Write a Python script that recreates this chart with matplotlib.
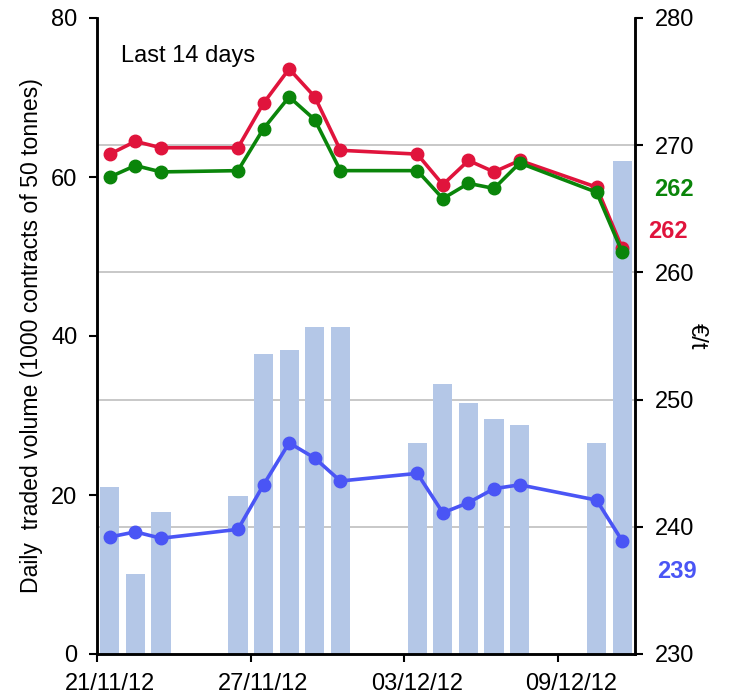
import numpy as np
import matplotlib
matplotlib.use('Agg')
import matplotlib.pyplot as plt
import matplotlib.dates as mdates
import matplotlib.transforms as mtransforms

plt.rcParams['font.family'] = ['Liberation Sans', 'DejaVu Sans']

# trading days shown (weekends left out)
dates = ['2012-11-21', '2012-11-22', '2012-11-23', '2012-11-26', '2012-11-27',
         '2012-11-28', '2012-11-29', '2012-11-30', '2012-12-03', '2012-12-04',
         '2012-12-05', '2012-12-06', '2012-12-07', '2012-12-10', '2012-12-11']
volume = [21.0, 10.1, 17.9, 19.9, 37.7, 38.2, 41.1, 41.1, 26.5, 34.0,
          31.6, 29.6, 28.8, 26.5, 62.0]
price_red = [269.3, 270.3, 269.8, 269.8, 273.3, 276.0, 273.8, 269.6, 269.3, 266.9,
             268.8, 267.9, 268.8, 266.7, 261.9]
price_green = [267.5, 268.4, 267.9, 268.0, 271.3, 273.8, 272.0, 268.0, 268.0, 265.8,
               267.0, 266.6, 268.6, 266.3, 261.6]
price_blue = [239.2, 239.6, 239.1, 239.8, 243.3, 246.6, 245.4, 243.6, 244.2, 241.1,
              241.9, 243.0, 243.3, 242.1, 238.9]
tick_dates = ['2012-11-21', '2012-11-27', '2012-12-03', '2012-12-09']
tick_labels = ['21/11/12', '27/11/12', '03/12/12', '09/12/12']
end_labels = ['262', '262', '239']

RED = '#E0143C'
GREEN = '#0A850A'
BLUE = '#4A55F5'
BAR = '#B4C7E7'

# each day sits in the middle of its date slot
x = np.array([mdates.datestr2num(d) for d in dates]) + 0.5
tx = np.array([mdates.datestr2num(d) for d in tick_dates])

fig = plt.figure(figsize=(7.30, 6.99), dpi=100)
ax = fig.add_axes([97/730, 1 - 654/699, (635 - 97)/730, (654 - 18)/699])
ax2 = ax.twinx()

ax.bar(x, volume, width=0.75, color=BAR, zorder=2)

ax2.plot(x, price_red, color=RED, lw=2.6, marker='o', ms=9, zorder=3)
ax2.plot(x, price_green, color=GREEN, lw=2.6, marker='o', ms=9, zorder=4)
ax2.plot(x, price_blue, color=BLUE, lw=2.6, marker='o', ms=9, zorder=3)

ax.set_xlim(mdates.datestr2num('2012-11-21'), mdates.datestr2num('2012-12-12'))
ax.set_ylim(0, 80)
ax2.set_ylim(230, 280)

# horizontal grid follows the right-hand scale (240..280 -> 16..80)
ax.set_yticks([16, 32, 48, 64, 80], minor=True)
ax.grid(axis='y', which='minor', color='#BFBFBF', lw=1.2, zorder=0)
ax.tick_params(axis='y', which='minor', length=0)

ax.set_yticks([0, 20, 40, 60, 80])
ax2.set_yticks([230, 240, 250, 260, 270, 280])
ax.tick_params(axis='y', labelsize=17, length=6, width=1.5, direction='out', pad=8)
ax2.tick_params(axis='y', labelsize=17, length=6, width=1.5, direction='out', pad=8)

ax.set_xticks(tx)
ax.set_xticklabels([])
ax.set_xticks(tx + 0.5, minor=True)
ax.set_xticklabels(tick_labels, minor=True, fontsize=17)
ax.tick_params(axis='x', which='major', length=6, width=1.5, direction='out')
ax.tick_params(axis='x', which='minor', length=0, pad=14)

for a in (ax, ax2):
    a.spines['top'].set_visible(False)
    for s in ('left', 'right', 'bottom'):
        a.spines[s].set_linewidth(1.8)

ax.set_ylabel('Daily  traded volume (1000 contracts of 50 tonnes)', fontsize=16.6, labelpad=6)
ax2.set_ylabel('€/t', fontsize=17, rotation=270, labelpad=10)

ax.text(0.045, 0.94, 'Last 14 days', transform=ax.transAxes, fontsize=17, va='center')

trans = mtransforms.blended_transform_factory(ax2.transAxes, ax2.transData)
ax2.text(1.035, 266.5, end_labels[0], transform=trans, color=GREEN, fontsize=17,
         fontweight='bold', va='center')
ax2.text(1.025, 263.2, end_labels[1], transform=trans, color=RED, fontsize=17,
         fontweight='bold', va='center')
ax2.text(1.042, 236.5, end_labels[2], transform=trans, color=BLUE, fontsize=17,
         fontweight='bold', va='center')

fig.savefig('out.png', dpi=100)
